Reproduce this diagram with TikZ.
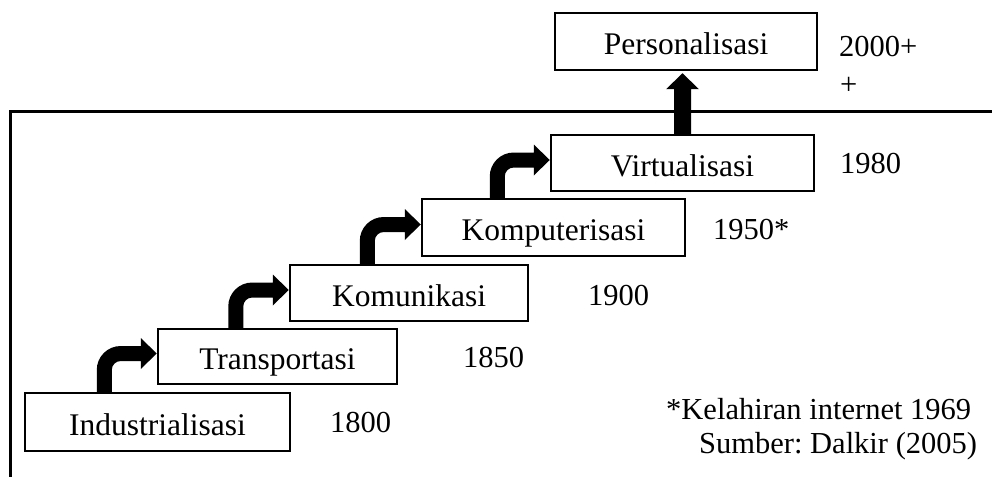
\documentclass[tikz,border=0pt]{standalone}
\usepackage{fontspec}
\setmainfont{Liberation Serif}
\usetikzlibrary{calc}

% Bent block arrow rising from the top of one stage box into the left side of the next.
% #1 = lower box, #2 = upper box, #3 = horizontal offset of the stem from the lower box's left edge
\newcommand\risearrow[3]{%
  \fill let \p1=($(#1.north west)+(#3,0)$), \p2=($(#2.west)+(0,-3)$) in
    (\x1-7.5pt,\y1) -- (\x1-7.5pt,\y2+7.5pt-24pt)
    arc[start angle=180,end angle=90,radius=24pt]
    -- (\x2-16pt,\y2+7.5pt) -- (\x2-16pt,\y2+15.5pt) -- (\x2,\y2)
    -- (\x2-16pt,\y2-15.5pt) -- (\x2-16pt,\y2-7.5pt) -- (\x1+16.5pt,\y2-7.5pt)
    arc[start angle=90,end angle=180,radius=9pt]
    -- (\x1+7.5pt,\y1) -- cycle;}

\begin{document}
\frenchspacing
\begin{tikzpicture}[x=1pt,y=-1pt,
  every node/.style={font=\fontsize{30.5}{38}\selectfont, inner sep=0pt},
  stage/.style={draw, line width=2.5pt, font=\fontsize{31.5}{38}\selectfont,
    text height=31pt, text depth=5pt},
  year/.style={anchor=base west}]
\useasboundingbox (0,0) rectangle (992,476);

% open frame around the lower stages
\draw[line width=3pt] (1010,111.5) -- (10,111.5) -- (10,495);

% stage boxes
\node[stage, minimum width=265pt, minimum height=58pt] (ind) at (157.5,422) {Industrialisasi};
\node[stage, minimum width=239pt, minimum height=55pt] (tra) at (277.5,356.5) {Transportasi};
\node[stage, minimum width=238pt, minimum height=56pt] (kom) at (409,293) {Komunikasi};
\node[stage, minimum width=263pt, minimum height=57pt] (kpt) at (553.5,227.5) {Komputerisasi};
\node[stage, minimum width=263pt, minimum height=56pt] (vir) at (682.5,163) {Virtualisasi};
\node[stage, minimum width=262pt, minimum height=57pt] (per) at (686,41.5) {Personalisasi};

% years
\node[year] (y1800) at (330,432.5) {1800};
\node[year] (y1850) at (463,367.5) {1850};
\node[year] (y1900) at (588,305.5) {1900};
\node[year] (y1950) at (713,239) {1950*};
\node[year] (y1980) at (840,173) {1980};
\node[year] (y2000) at (839,57) {2000+};
\node[year] (y2000b) at (840,95) {+};

% notes
\node[year] (note) at (666,419) {*Kelahiran internet 1969};
\node[year] (src) at (699,453) {Sumber: Dalkir (2005)};

% arrows between stages
\risearrow{ind}{tra}{80.5}
\risearrow{tra}{kom}{79}
\risearrow{kom}{kpt}{78.5}
\risearrow{kpt}{vir}{76.5}

% straight arrow up to the last stage
\fill let \p1=(vir.north), \p2=($(per.south)+(0,2)$) in
  (\x1-8.5pt,\y1) -- (\x1-8.5pt,\y2-16pt) -- (\x1-16.5pt,\y2-16pt) -- (\x1,\y2)
  -- (\x1+16.5pt,\y2-16pt) -- (\x1+8.5pt,\y2-16pt) -- (\x1+8.5pt,\y1) -- cycle;
\end{tikzpicture}
\end{document}
